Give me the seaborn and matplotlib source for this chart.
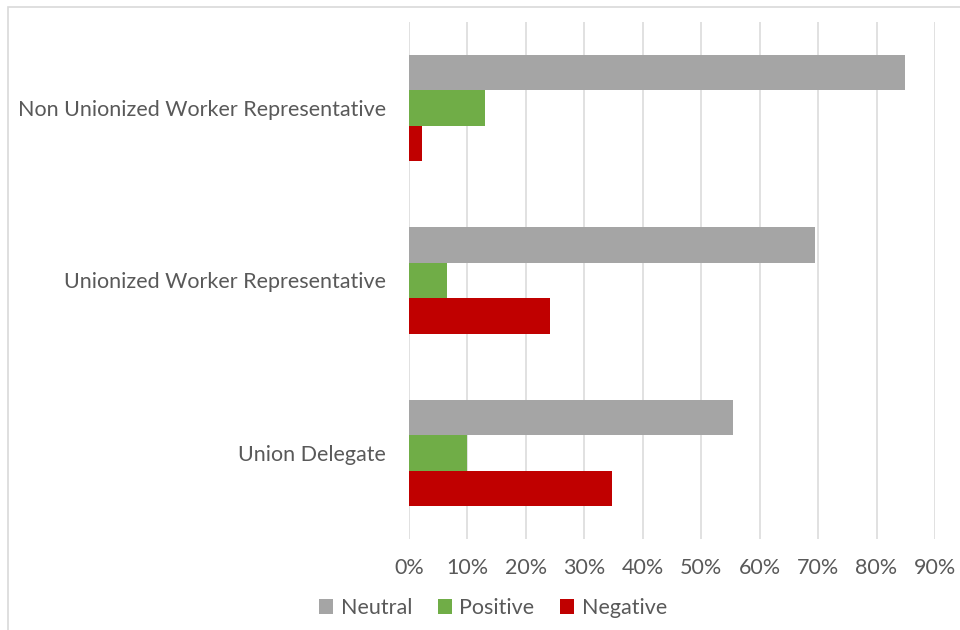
import matplotlib
matplotlib.use("Agg")
import matplotlib.pyplot as plt
from matplotlib.patches import Rectangle
from matplotlib.ticker import PercentFormatter
import pandas as pd
import seaborn as sns

# Survey responses by respondent type (share of answers)
categories = [
    "Non Unionized Worker Representative",
    "Unionized Worker Representative",
    "Union Delegate",
]
series = ["Neutral", "Positive", "Negative"]
neutral = [0.848, 0.694, 0.554]
positive = [0.130, 0.065, 0.100]
negative = [0.022, 0.241, 0.347]
x_ticks = [0.0, 0.1, 0.2, 0.3, 0.4, 0.5, 0.6, 0.7, 0.8, 0.9]

colors = {"Neutral": "#A5A5A5", "Positive": "#70AD47", "Negative": "#C00000"}
text_color = "#595959"
grid_color = "#D9D9D9"
font_size = 15.5

df = pd.DataFrame({
    "group": categories * 3,
    "response": [s for s in series for _ in categories],
    "share": neutral + positive + negative,
})

sns.set_theme(style="white")
plt.rcParams["font.family"] = ["Lato", "DejaVu Sans"]

fig = plt.figure(figsize=(9.6, 6.3), dpi=100)
ax = fig.add_axes([409 / 960, 1 - 539 / 630, (935 - 409) / 960, (539 - 22) / 630])

sns.barplot(
    data=df, x="share", y="group", hue="response",
    order=categories, hue_order=series, palette=colors,
    orient="h", width=0.618, gap=0, saturation=1,
    edgecolor="none", linewidth=0, ax=ax,
)

ax.set_xlim(0, 0.9)
ax.set_ylim(2.5, -0.5)
ax.set_xticks(x_ticks)
ax.xaxis.set_major_formatter(PercentFormatter(1.0, decimals=0))
ax.set_xlabel("")
ax.set_ylabel("")
ax.grid(axis="x", color=grid_color, linewidth=1.1)
ax.grid(axis="y", visible=False)
ax.set_axisbelow(True)
for side in ["top", "right", "bottom", "left"]:
    ax.spines[side].set_visible(False)
ax.tick_params(axis="both", length=0, labelsize=font_size, labelcolor=text_color)
ax.tick_params(axis="y", pad=16.5)
ax.tick_params(axis="x", pad=14)

handles, labels = ax.get_legend_handles_labels()
ax.get_legend().remove()
fig.legend(
    handles, labels, loc="center", bbox_to_anchor=(493 / 960, 1 - 608 / 630),
    ncol=3, frameon=False, fontsize=font_size, labelcolor=text_color,
    handlelength=0.65, handleheight=0.65, handletextpad=0.35, columnspacing=1.2,
)

# Light chart-area frame
fig.add_artist(Rectangle(
    (7.5 / 960, -0.1), 1.2, 0.1 + 623 / 630,
    transform=fig.transFigure, fill=False, edgecolor=grid_color, linewidth=1.2,
))

fig.savefig("out.png", dpi=100)
